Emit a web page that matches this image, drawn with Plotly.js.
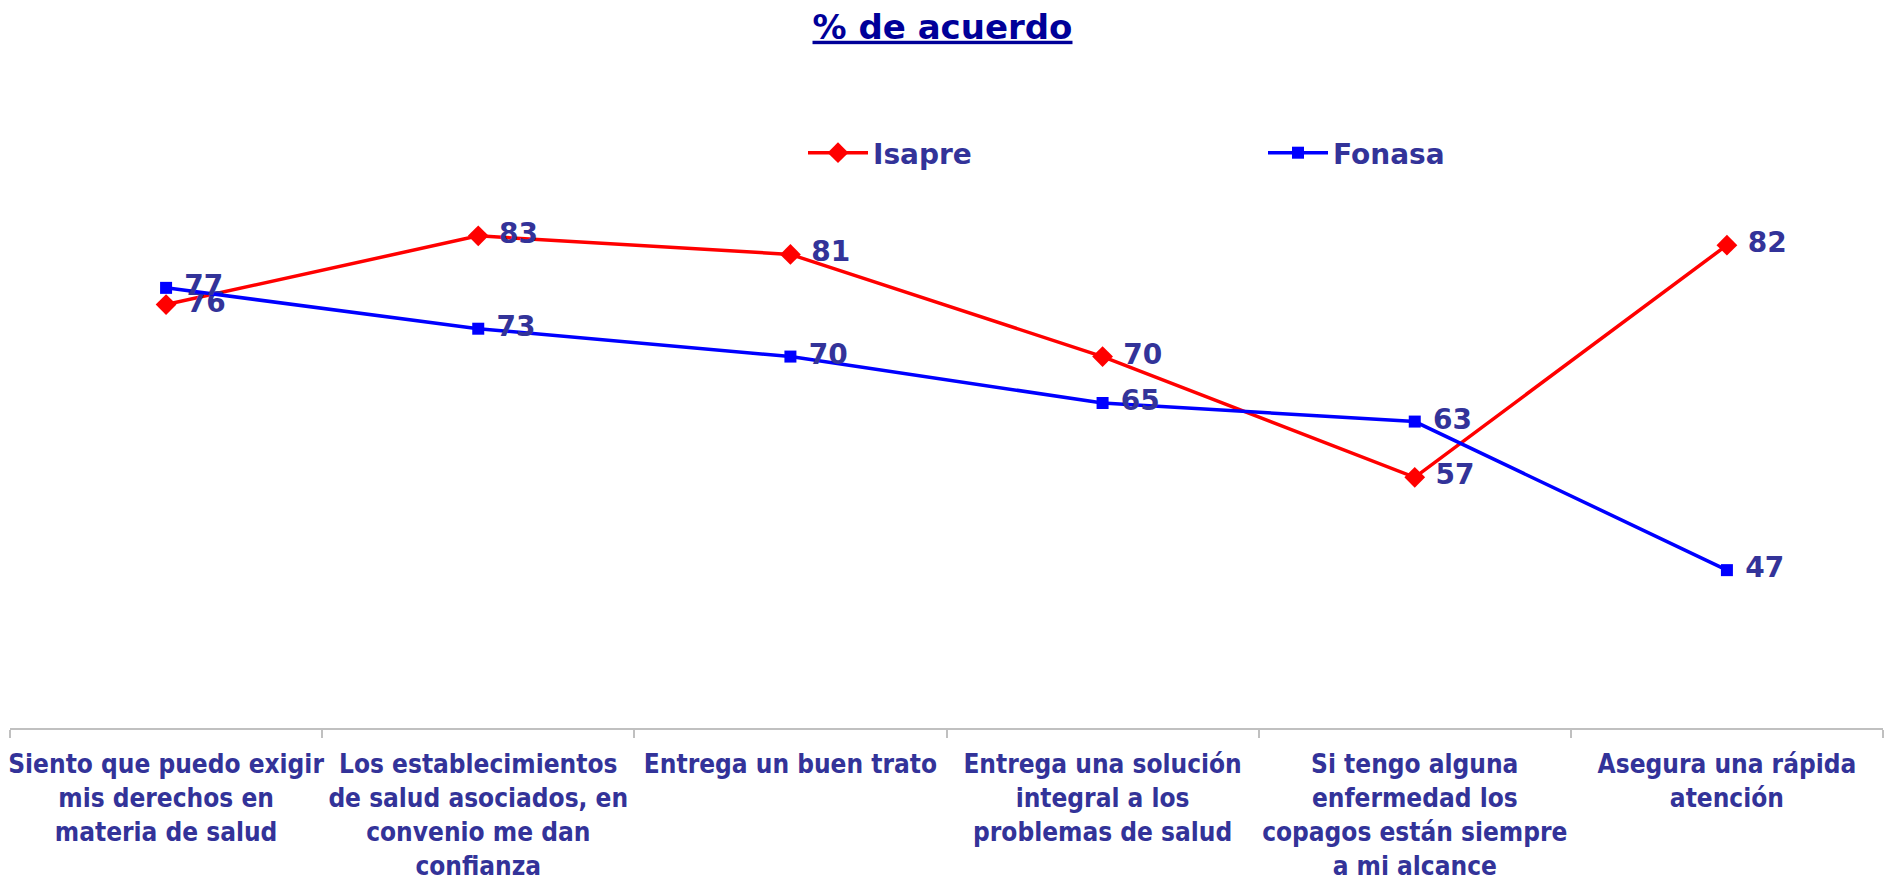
<!DOCTYPE html>
<html>
<head>
<meta charset="utf-8">
<script src="https://cdn.plot.ly/plotly-3.0.1.min.js"></script>
<style>
  html, body { margin: 0; padding: 0; background: #ffffff; }
  #chart { width: 1885px; height: 881px; }
</style>
</head>
<body>
<div id="chart"></div>
<script>
// Categories (tick labels, wrapped as in the reference)
const categories = [
  "Siento que puedo exigir<br>mis derechos en<br>materia de salud",
  "Los establecimientos<br>de salud asociados, en<br>convenio me dan<br>confianza",
  "Entrega un buen trato",
  "Entrega una solución<br>integral a los<br>problemas de salud",
  "Si tengo alguna<br>enfermedad los<br>copagos están siempre<br>a mi alcance",
  "Asegura una rápida<br>atención"
];

// Series values (% de acuerdo); labels are shown rounded
const isapreValues = [75.6, 83, 81, 70, 57, 82];
const fonasaValues = [77.4, 73, 70, 65, 63, 47];

const seriesNames = ["Isapre", "Fonasa"];
const chartTitle = "% de acuerdo";

const labelFont = { family: "'DejaVu Sans', Verdana, sans-serif", size: 28, color: "#333399", weight: "bold" };

const traces = [
  {
    type: "scatter",
    mode: "lines+markers+text",
    name: seriesNames[0],
    x: categories,
    y: isapreValues,
    line: { color: "#FF0000", width: 3.5 },
    marker: { symbol: "diamond", size: 16, color: "#FF0000" },
    texttemplate: "\u00a0%{y:.0f}",
    textposition: "middle right",
    textfont: labelFont,
    cliponaxis: false,
    hoverinfo: "x+y"
  },
  {
    type: "scatter",
    mode: "lines+markers+text",
    name: seriesNames[1],
    x: categories,
    y: fonasaValues,
    line: { color: "#0000FF", width: 3.5 },
    marker: { symbol: "square", size: 12, color: "#0000FF" },
    texttemplate: "\u00a0%{y:.0f}",
    textposition: "middle right",
    textfont: labelFont,
    cliponaxis: false,
    hoverinfo: "x+y"
  }
];

const layout = {
  width: 1885,
  height: 881,
  paper_bgcolor: "#ffffff",
  plot_bgcolor: "#ffffff",
  margin: { l: 10, r: 2, t: 78, b: 153, pad: 0, autoexpand: false },
  title: {
    text: "<b>" + chartTitle + "</b>",
    font: { family: "'DejaVu Sans', Verdana, sans-serif", size: 34, color: "#000099", lineposition: "under" },
    x: 0.5,
    xanchor: "center",
    xref: "container",
    yref: "container",
    y: 0.983,
    yanchor: "top"
  },
  showlegend: true,
  legend: {
    orientation: "h",
    xref: "paper",
    yref: "paper",
    x: (803 - 10) / 1873,
    xanchor: "left",
    y: (728 - 153) / 650,
    yanchor: "middle",
    itemwidth: 60,
    entrywidth: 385,
    entrywidthmode: "pixels",
    bgcolor: "rgba(0,0,0,0)",
    borderwidth: 0,
    font: { family: "'DejaVu Sans', Verdana, sans-serif", size: 28, color: "#333399", weight: "bold" }
  },
  xaxis: {
    type: "category",
    range: [-0.5, 5.5],
    autorange: false,
    showline: true,
    linecolor: "#C0C0C0",
    linewidth: 2,
    showgrid: false,
    zeroline: false,
    ticks: "outside",
    tickson: "boundaries",
    ticklen: 8,
    tickwidth: 2,
    tickcolor: "#C0C0C0",
    tickangle: 0,
    ticklabelstandoff: 12,
    tickfont: { family: "'DejaVu Sans Condensed', 'Liberation Sans', sans-serif", size: 26, color: "#333399", weight: "bold" },
    fixedrange: true
  },
  yaxis: {
    range: [30, 100],
    autorange: false,
    visible: false,
    showgrid: false,
    zeroline: false,
    fixedrange: true
  },
  hovermode: false
};

Plotly.newPlot("chart", traces, layout, { displayModeBar: false, staticPlot: true });
</script>
</body>
</html>
